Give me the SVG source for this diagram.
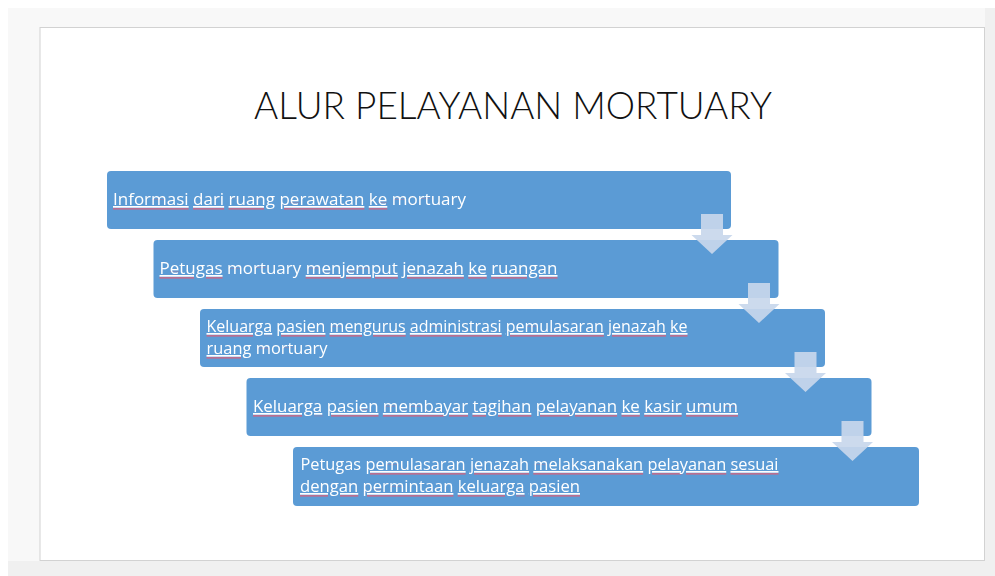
<svg xmlns="http://www.w3.org/2000/svg" width="995" height="576" viewBox="0 0 995 576">
<defs>
<filter id="squiggle" x="-3%" y="-30%" width="106%" height="170%">
<feMorphology in="SourceAlpha" operator="erode" radius="4 0" result="e"/>
<feMorphology in="e" operator="dilate" radius="4 0" result="d"/>
<feOffset in="d" dy="2" result="o"/>
<feFlood flood-color="#d8607a" flood-opacity="0.75" result="f"/>
<feComposite in="f" in2="o" operator="in" result="r"/>
<feMerge><feMergeNode in="r"/><feMergeNode in="SourceGraphic"/></feMerge>
</filter>
</defs>
<style>
.box{fill:#5b9bd5}
.t{font-family:"Open Sans","Liberation Sans",sans-serif;font-size:16.8px;fill:#ffffff;filter:url(#squiggle)}
.t .u{text-decoration:underline}
.title{font-family:"Lato","Open Sans","Liberation Sans",sans-serif;font-weight:300;font-size:37px;fill:#111111}
.arrow{fill:#c8d7ec;fill-opacity:0.92}
</style>
<rect x="0" y="0" width="995" height="576" fill="#ffffff"/>
<rect x="8" y="8" width="987" height="568" fill="#f8f8f8"/>
<rect x="985" y="8" width="10" height="568" fill="#f0f0f0"/>
<rect x="8" y="561" width="987" height="15" fill="#f0f0f0"/>
<rect x="40" y="27.5" width="944.5" height="533" fill="#ffffff" stroke="#d2d2d2" stroke-width="1"/>
<text class="title" x="513" y="119" text-anchor="middle" textLength="518" lengthAdjust="spacingAndGlyphs">ALUR PELAYANAN MORTUARY</text>

<g id="node1">
<rect class="box" x="107" y="171" width="624" height="58" rx="4"/>
<text class="t" x="113" y="205" textLength="353" lengthAdjust="spacingAndGlyphs"><tspan class="u">Informasi</tspan> <tspan class="u">dari</tspan> <tspan class="u">ruang</tspan> <tspan class="u">perawatan</tspan> <tspan class="u">ke</tspan> mortuary</text>
</g>

<g id="node2">
<rect class="box" x="153.5" y="240" width="625" height="58" rx="4"/>
<text class="t" x="159.5" y="274" textLength="398" lengthAdjust="spacingAndGlyphs"><tspan class="u">Petugas</tspan> mortuary <tspan class="u">menjemput</tspan> <tspan class="u">jenazah</tspan> <tspan class="u">ke</tspan> <tspan class="u">ruangan</tspan></text>
</g>

<g id="node3">
<rect class="box" x="200" y="309" width="625" height="58" rx="4"/>
<text class="t" x="206.5" y="332" textLength="481" lengthAdjust="spacingAndGlyphs"><tspan class="u">Keluarga</tspan> <tspan class="u">pasien</tspan> <tspan class="u">mengurus</tspan> <tspan class="u">administrasi</tspan> <tspan class="u">pemulasaran</tspan> <tspan class="u">jenazah</tspan> <tspan class="u">ke</tspan></text>
<text class="t" x="206.5" y="354" textLength="121" lengthAdjust="spacingAndGlyphs"><tspan class="u">ruang</tspan> mortuary</text>
</g>

<g id="node4">
<rect class="box" x="246.5" y="378" width="625" height="58" rx="4"/>
<text class="t" x="253" y="412" textLength="485" lengthAdjust="spacingAndGlyphs"><tspan class="u">Keluarga</tspan> <tspan class="u">pasien</tspan> <tspan class="u">membayar</tspan> <tspan class="u">tagihan</tspan> <tspan class="u">pelayanan</tspan> <tspan class="u">ke</tspan> <tspan class="u">kasir</tspan> <tspan class="u">umum</tspan></text>
</g>

<g id="node5">
<rect class="box" x="293" y="447" width="626" height="59" rx="4"/>
<text class="t" x="300.5" y="470" textLength="478" lengthAdjust="spacingAndGlyphs">Petugas <tspan class="u">pemulasaran</tspan> <tspan class="u">jenazah</tspan> <tspan class="u">melaksanakan</tspan> <tspan class="u">pelayanan</tspan> <tspan class="u">sesuai</tspan></text>
<text class="t" x="300" y="492" textLength="280" lengthAdjust="spacingAndGlyphs"><tspan class="u">dengan</tspan> <tspan class="u">permintaan</tspan> <tspan class="u">keluarga</tspan> <tspan class="u">pasien</tspan></text>
</g>

<g id="connectors">
<path class="arrow" d="M701,214 H723 V235 H732.5 L712,254 L691.5,235 H701 Z"/>
<path class="arrow" d="M748,283 H770 V304 H779.5 L759,323 L738.5,304 H748 Z"/>
<path class="arrow" d="M794.5,352 H816.5 V373 H826 L805.5,392 L785,373 H794.5 Z"/>
<path class="arrow" d="M841.5,421 H863.5 V442 H873 L852.5,461 L832,442 H841.5 Z"/>
</g>
</svg>
